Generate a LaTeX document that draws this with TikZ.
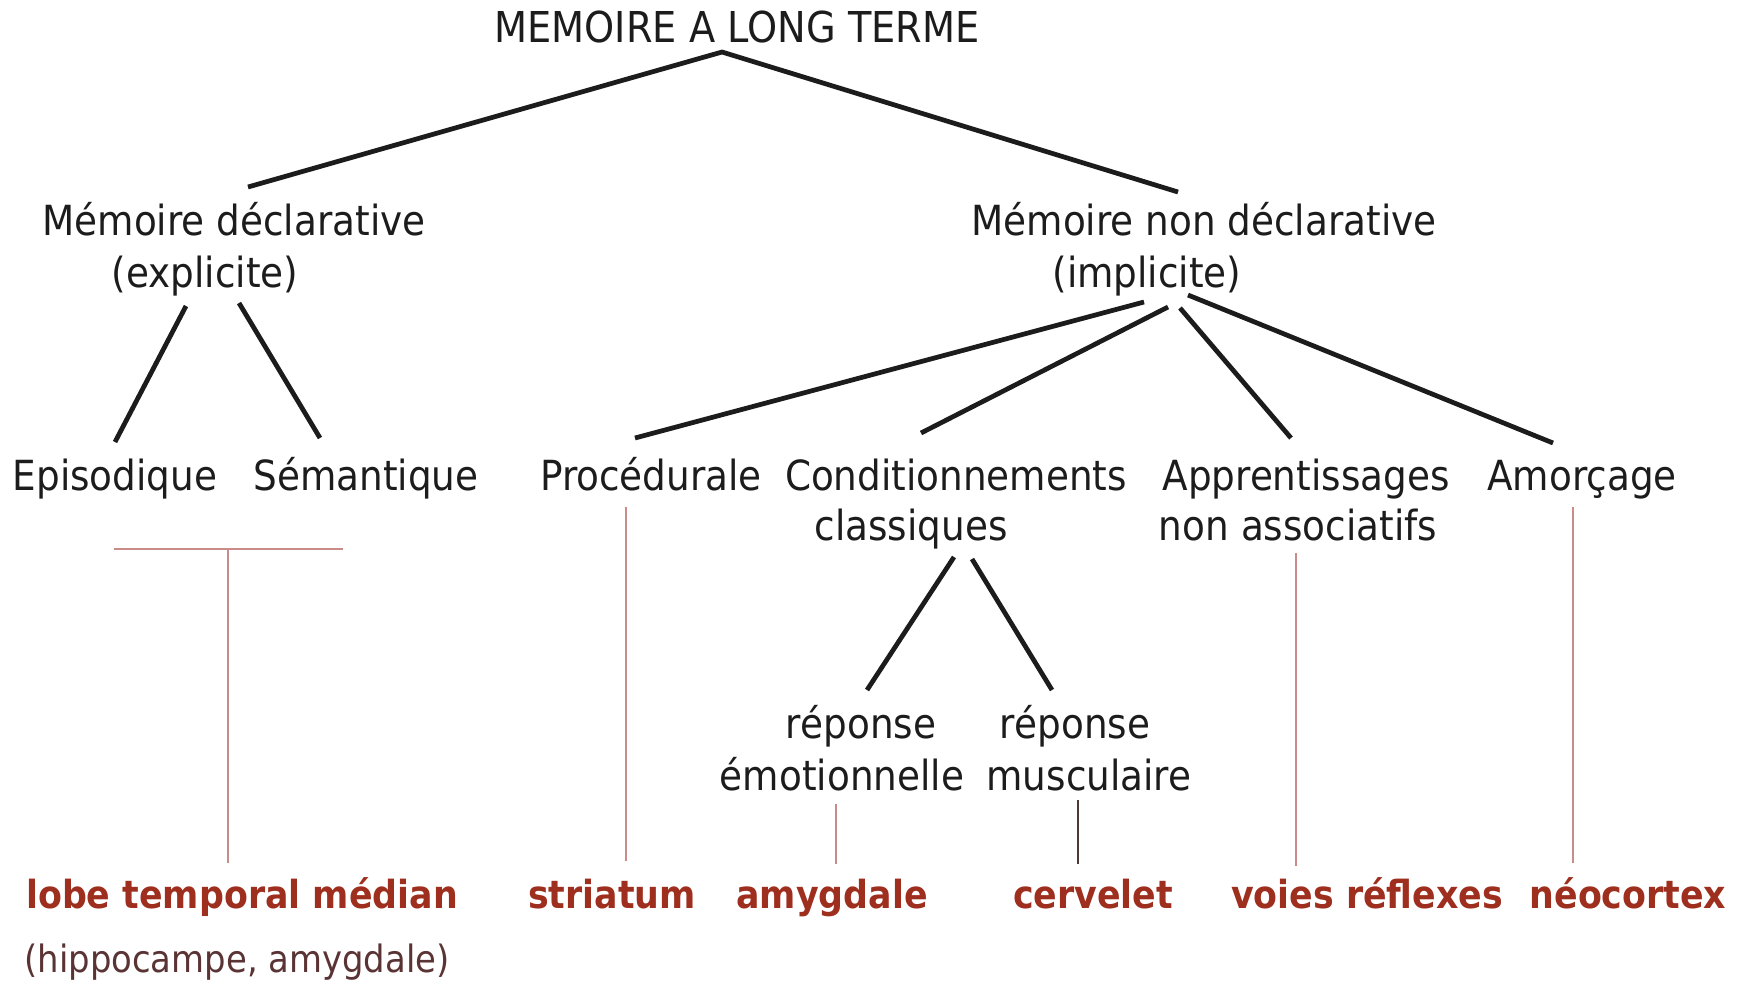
\documentclass[tikz,border=0pt]{standalone}
\usepackage{fontspec}
\setmainfont{DejaVu Sans}[FakeStretch=0.9]
\usepackage{xcolor}
\usetikzlibrary{positioning,calc}
\definecolor{brick}{HTML}{9E2E1E}
\definecolor{rosy}{HTML}{C98C88}
\definecolor{ink}{HTML}{1C1C1C}
\definecolor{umber}{HTML}{5A3434}

\begin{document}
\begin{tikzpicture}[x=0.01cm,y=-0.01cm,
    lbl/.style={anchor=base,inner sep=0pt,text=ink,font=\fontsize{11.8}{14}\selectfont},
    site/.style={anchor=base,inner sep=0pt,text=brick,font=\fontsize{11}{13}\selectfont\bfseries},
    branch/.style={line width=1.35pt,ink},
    link/.style={line width=0.8pt,rosy}]
    \useasboundingbox (0,0) rectangle (1746,987);

    % levels of the tree
    \node[lbl,font=\fontsize{12.1}{14}\selectfont] (top) at (737,42) {MEMOIRE A LONG TERME};
    \node[lbl] (decl) at (234,235) {Mémoire déclarative};
    \node[lbl] (expl) at (205,287) {(explicite)};
    \node[lbl] (ndecl) at (1204,235) {Mémoire non déclarative};
    \node[lbl] (impl) at (1147,287) {(implicite)};

    \node[lbl] (epi) at (115,490) {Episodique};
    \node[lbl] (sem) at (366,490) {Sémantique};
    \node[lbl] (proc) at (651,490) {Procédurale};
    \node[lbl] (cond) at (956,490) {Conditionnements};
    \node[lbl] (class) at (911,540) {classiques};
    \node[lbl] (appr) at (1306,490) {Apprentissages};
    \node[lbl] (assoc) at (1298,540) {non associatifs};
    \node[lbl] (amor) at (1582,490) {Amorçage};

    \node[lbl] (rep1) at (861,738) {réponse};
    \node[lbl] (emo) at (842,790) {émotionnelle};
    \node[lbl] (rep2) at (1075,738) {réponse};
    \node[lbl] (musc) at (1089,790) {musculaire};

    % brain structures
    \node[site] (lobe) at (242,908) {lobe temporal médian};
    \node[lbl,text=umber,font=\fontsize{10.7}{13}\selectfont] (hippo) at (237,972) {(hippocampe, amygdale)};
    \node[site] (stri) at (612,908) {striatum};
    \node[site] (amyg) at (832,908) {amygdale};
    \node[site] (cerv) at (1093,908) {cervelet};
    \node[site] (voies) at (1367,908) {voies réflexes};
    \node[site] (neo) at (1628,908) {néocortex};

    % black branches
    \draw[branch] ($(decl.base)+(14,-48)$) -- ($(top.base)+(-15,10)$) -- ($(ndecl.base)+(-26,-43)$);
    \draw[branch] ($(expl.base)+(-19,19)$) -- ($(epi.base)+(0,-48)$);
    \draw[branch] ($(expl.base)+(34,16)$) -- ($(sem.base)+(-46,-52)$);
    \draw[branch] ($(impl.base)+(-3,15)$) -- ($(proc.base)+(-16,-52)$);
    \draw[branch] ($(impl.base)+(21,20)$) -- ($(cond.base)+(-35,-57)$);
    \draw[branch] ($(impl.base)+(33,21)$) -- ($(appr.base)+(-15,-52)$);
    \draw[branch] ($(impl.base)+(41,8)$) -- ($(amor.base)+(-29,-47)$);
    \draw[branch] ($(class.base)+(43,17)$) -- ($(rep1.base)+(6,-48)$);
    \draw[branch] ($(class.base)+(61,19)$) -- ($(rep2.base)+(-23,-48)$);

    % links to the structures
    \coordinate (fork) at (228,549);
    \draw[link] ($(epi.base)+(-1,59)$) -- ($(sem.base)+(-23,59)$);
    \draw[link] (fork) -- ($(lobe.base)+(-14,-45)$);
    \draw[link] ($(proc.base)+(-25,17)$) -- ($(stri.base)+(14,-47)$);
    \draw[link] ($(emo.base)+(-6,14)$) -- ($(amyg.base)+(4,-44)$);
    \draw[link,black!60!rosy] ($(musc.base)+(-11,10)$) -- ($(cerv.base)+(-15,-44)$);
    \draw[link] ($(assoc.base)+(-2,13)$) -- ($(voies.base)+(-71,-42)$);
    \draw[link] ($(amor.base)+(-9,17)$) -- ($(neo.base)+(-55,-45)$);
\end{tikzpicture}
\end{document}
